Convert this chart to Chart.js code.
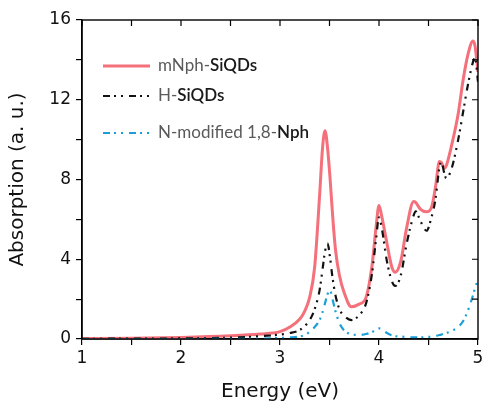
<!DOCTYPE html>
<html>
<head>
<meta charset="utf-8">
<script src="https://cdn.jsdelivr.net/npm/chart.js@4"></script>
<style>
  body { margin: 0; background: #fff; }
</style>
</head>
<body>
<canvas id="chart" width="482" height="404"></canvas>
<script>
// photon energy (eV)
const energy = [1.0, 1.5, 2.0, 2.5, 2.8, 3.0, 3.1, 3.2, 3.25, 3.3, 3.35, 3.4, 3.43, 3.455, 3.48,
  3.505, 3.53, 3.56, 3.6, 3.65, 3.72, 3.8, 3.87, 3.93, 3.97, 4.0, 4.03, 4.08, 4.13, 4.165,
  4.22, 4.28, 4.35, 4.37, 4.42, 4.48, 4.53, 4.57, 4.61, 4.63, 4.66, 4.68, 4.73, 4.8, 4.85,
  4.9, 4.95, 4.97, 5.0];

const mNphSiQDs = [0.02, 0.04, 0.08, 0.16, 0.25, 0.37, 0.6, 1.0, 1.4, 2.1, 3.6, 7.2, 9.6, 10.45, 9.6,
  8.1, 6.3, 4.5, 3.2, 2.3, 1.62, 1.75, 2.1, 3.7, 5.6, 6.7, 6.1, 4.8, 3.6, 3.35,
  3.9, 5.6, 6.9, 6.85, 6.5, 6.38, 6.6, 7.6, 8.9, 8.85, 8.56, 8.7, 9.64, 11.3, 13.0,
  14.3, 14.95, 14.7, 13.4];

const hSiQDs = [0.01, 0.02, 0.03, 0.07, 0.14, 0.22, 0.3, 0.45, 0.65, 0.95, 1.5, 2.45, 3.5, 4.4, 4.8,
  4.1, 3.1, 2.2, 1.5, 1.15, 0.95, 1.2, 1.8, 3.3, 5.0, 6.1, 5.5, 3.9, 2.9, 2.66,
  3.2, 4.8, 6.2, 6.4, 5.9, 5.43, 6.1, 7.0, 8.6, 8.9, 8.3, 8.06, 8.5, 10.0, 11.4,
  12.8, 13.9, 14.1, 12.9];

const nModNph = [0, 0, 0, 0.01, 0.02, 0.05, 0.08, 0.13, 0.2, 0.37, 0.6, 0.95, 1.35, 1.8, 2.25,
  2.45, 2.0, 1.4, 0.8, 0.42, 0.24, 0.2, 0.25, 0.35, 0.48, 0.53, 0.48, 0.3, 0.18, 0.14,
  0.12, 0.1, 0.08, 0.08, 0.08, 0.1, 0.12, 0.15, 0.2, 0.22, 0.27, 0.3, 0.4, 0.6, 0.9,
  1.45, 2.2, 2.55, 3.0];

const xTickLabels = [1, 2, 3, 4, 5];
const yTickLabels = [0, 4, 8, 12, 16];

const RED = "#f4707a";
const BLACK = "#111";
const BLUE = "#1b9fd6";
const DASH = [7, 4, 2, 5, 2, 6];

const toPoints = (ys) => energy.map((e, i) => ({ x: e, y: ys[i] }));

const legendRows = [
  { color: RED, dash: [], width: 3, parts: [["mNph-", false], ["SiQDs", true]] },
  { color: BLACK, dash: DASH, width: 2.2, parts: [["H-", false], ["SiQDs", true]] },
  { color: BLUE, dash: DASH, width: 2.2, parts: [["N-modified 1,8-", false], ["Nph", true]] },
];

const legendPlugin = {
  id: "textLegend",
  afterDraw(chart) {
    const ctx = chart.ctx;
    const rowY = [66, 96, 133];
    ctx.save();
    legendRows.forEach((row, i) => {
      const y = rowY[i];
      ctx.beginPath();
      ctx.strokeStyle = row.color;
      ctx.lineWidth = row.width;
      ctx.setLineDash(row.dash);
      ctx.moveTo(103, y);
      ctx.lineTo(150, y);
      ctx.stroke();
      ctx.setLineDash([]);
      let x = 158;
      ctx.textBaseline = "middle";
      row.parts.forEach(([txt, bold]) => {
        ctx.font = (bold ? "600 " : "400 ") + "17px Lato";
        ctx.fillStyle = bold ? "#1a1a1a" : "#5a5a5a";
        ctx.fillText(txt, x, y);
        x += ctx.measureText(txt).width;
      });
    });
    ctx.restore();
  },
};

const framePlugin = {
  id: "frame",
  afterDraw(chart) {
    const { ctx, chartArea: a, scales } = chart;
    ctx.save();
    ctx.strokeStyle = "#000";
    ctx.lineWidth = 1.4;
    ctx.strokeRect(a.left, a.top, a.right - a.left, a.bottom - a.top);
    ctx.lineWidth = 1.2;
    ctx.beginPath();
    scales.x.ticks.forEach((t) => {
      const px = scales.x.getPixelForValue(t.value);
      ctx.moveTo(px, a.top);
      ctx.lineTo(px, a.top + 6);
    });
    scales.y.ticks.forEach((t) => {
      const py = scales.y.getPixelForValue(t.value);
      ctx.moveTo(a.right, py);
      ctx.lineTo(a.right - 6, py);
    });
    ctx.stroke();
    ctx.restore();
  },
};

const tickFont = { family: "DejaVu Sans", size: 17 };
const titleFont = { family: "DejaVu Sans", size: 20 };

new Chart(document.getElementById("chart"), {
  type: "line",
  data: {
    datasets: [
      { label: "N-modified 1,8-Nph", data: toPoints(nModNph), borderColor: BLUE, borderWidth: 2.2, borderDash: DASH, order: 1 },
      { label: "H-SiQDs", data: toPoints(hSiQDs), borderColor: BLACK, borderWidth: 2.2, borderDash: DASH, order: 2 },
      { label: "mNph-SiQDs", data: toPoints(mNphSiQDs), borderColor: RED, borderWidth: 3, order: 3 },
    ],
  },
  options: {
    responsive: false,
    animation: false,
    events: [],
    layout: { padding: { top: 20, right: 4, left: 0, bottom: 0 } },
    elements: {
      point: { radius: 0 },
      line: { cubicInterpolationMode: "monotone", fill: false },
    },
    plugins: { legend: { display: false }, tooltip: { enabled: false } },
    scales: {
      x: {
        type: "linear",
        min: 1,
        max: 5,
        afterFit(s) { s.height = 65; s.paddingLeft = 0; s.paddingRight = 0; },
        ticks: {
          stepSize: 0.5,
          autoSkip: false,
          maxRotation: 0,
          padding: 3,
          color: "#111",
          font: tickFont,
          callback: (v) => (xTickLabels.includes(v) ? v : ""),
        },
        grid: { drawOnChartArea: false, drawTicks: true, tickLength: 6, color: "#000", lineWidth: 1.2 },
        border: { display: true, color: "#000", width: 1.4 },
        title: { display: true, text: "Energy (eV)", color: "#111", font: titleFont, padding: { top: 0, bottom: 0 } },
      },
      y: {
        min: 0,
        max: 16,
        afterFit(s) { s.width = 82; s.paddingTop = 0; s.paddingBottom = 0; },
        ticks: {
          stepSize: 2,
          autoSkip: false,
          padding: 5,
          color: "#111",
          font: tickFont,
          callback: (v) => (yTickLabels.includes(v) ? v : ""),
        },
        grid: { drawOnChartArea: false, drawTicks: true, tickLength: 6, color: "#000", lineWidth: 1.2 },
        border: { display: true, color: "#000", width: 1.4 },
        title: { display: true, text: "Absorption (a. u.)", color: "#111", font: titleFont, padding: { top: 6, bottom: 0 } },
      },
    },
  },
  plugins: [framePlugin, legendPlugin],
});
</script>
</body>
</html>
